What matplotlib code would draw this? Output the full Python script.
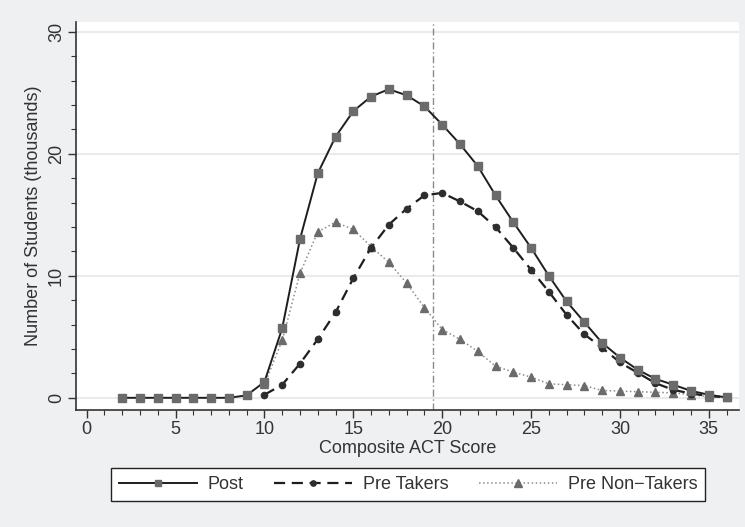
import matplotlib.pyplot as plt
from matplotlib.ticker import MultipleLocator

plt.rcParams['font.family'] = ['Liberation Sans', 'DejaVu Sans']

# ACT scores on the x axis
scores_post = list(range(2, 37))
scores_pre = list(range(10, 37))

# number of students, thousands
post = [0, 0, 0, 0, 0, 0, 0, 0.2, 1.3, 5.7, 13.0, 18.4, 21.4, 23.5, 24.7, 25.3,
        24.8, 23.9, 22.4, 20.8, 19.0, 16.6, 14.4, 12.3, 10.0, 7.9, 6.2, 4.5,
        3.3, 2.3, 1.55, 1.07, 0.57, 0.25, 0.03]
pre_takers = [0.25, 1.07, 2.8, 4.8, 7.0, 9.8, 12.3, 14.2, 15.5, 16.6, 16.8,
              16.1, 15.3, 14.0, 12.3, 10.5, 8.7, 6.8, 5.2, 4.1, 2.9, 2.05,
              1.2, 0.65, 0.35, 0.15, 0.03]
pre_non = [1.1, 4.7, 10.2, 13.6, 14.4, 13.8, 12.4, 11.1, 9.4, 7.4, 5.6, 4.8,
           3.8, 2.6, 2.1, 1.7, 1.15, 1.07, 1.0, 0.6, 0.55, 0.5, 0.45, 0.4,
           0.25, 0.1, 0.03]
cutoff = 19.5

bg = '#eef0f1'
fig = plt.figure(figsize=(7.45, 5.27), dpi=100, facecolor=bg)
ax = fig.add_axes([0.102, 0.222, 0.890, 0.736])
ax.set_facecolor('white')

for y in [0, 10, 20, 30]:
    ax.axhline(y, color='#e9eaeb', lw=1.5, zorder=0)
ax.axvline(cutoff, color='#8a8a8a', lw=1.0, ls=(0, (5, 2, 1, 2)), zorder=1)

ax.plot(scores_pre, pre_non, color='#8c8c8c', lw=1.1, ls=':',
        marker='^', ms=6, mfc='#6b6b6b', mec='#6b6b6b', label='Pre Non\u2212Takers', zorder=2)
ax.plot(scores_pre, pre_takers, color='#1e1e1e', lw=1.6, ls=(0, (5, 3)),
        marker='o', ms=4.5, mfc='#2e2e2e', mec='#2e2e2e', label='Pre Takers', zorder=3)
ax.plot(scores_post, post, color='#1e1e1e', lw=1.4, ls='-',
        marker='s', ms=5.5, mfc='#6b6b6b', mec='#6b6b6b', label='Post', zorder=4)

ax.set_xlim(-0.6, 36.7)
ax.set_ylim(-1.0, 30.8)
ax.xaxis.set_major_locator(MultipleLocator(5))
ax.xaxis.set_minor_locator(MultipleLocator(1))
ax.yaxis.set_major_locator(MultipleLocator(10))
ax.yaxis.set_minor_locator(MultipleLocator(2))
ax.tick_params(which='major', length=6, width=1, color='#333333', labelsize=13,
               labelcolor='#333333', pad=2)
ax.tick_params(which='minor', length=3.5, width=0.8, color='#333333')
for lbl in ax.get_yticklabels():
    lbl.set_rotation(90)
    lbl.set_va('center')

for s in ['top', 'right']:
    ax.spines[s].set_visible(False)
for s in ['left', 'bottom']:
    ax.spines[s].set_color('#333333')
    ax.spines[s].set_linewidth(1.2)

ax.set_xlabel('Composite ACT Score', fontsize=13, color='#333333', labelpad=1)
ax.set_ylabel('Number of Students (thousands)', fontsize=13, color='#333333', labelpad=4)

h, l = ax.get_legend_handles_labels()
leg = fig.legend(h[::-1], l[::-1], loc='center', bbox_to_anchor=(0.548, 0.08), ncol=3,
                 fancybox=False, framealpha=1, edgecolor='#222222', fontsize=13,
                 handlelength=4.3, columnspacing=1.7, handletextpad=0.6, borderpad=0.45,
                 markerscale=0.85)
leg.get_frame().set_linewidth(1.0)
for t in leg.get_texts():
    t.set_color('#333333')

fig.savefig('out.png', dpi=100, facecolor=bg)
